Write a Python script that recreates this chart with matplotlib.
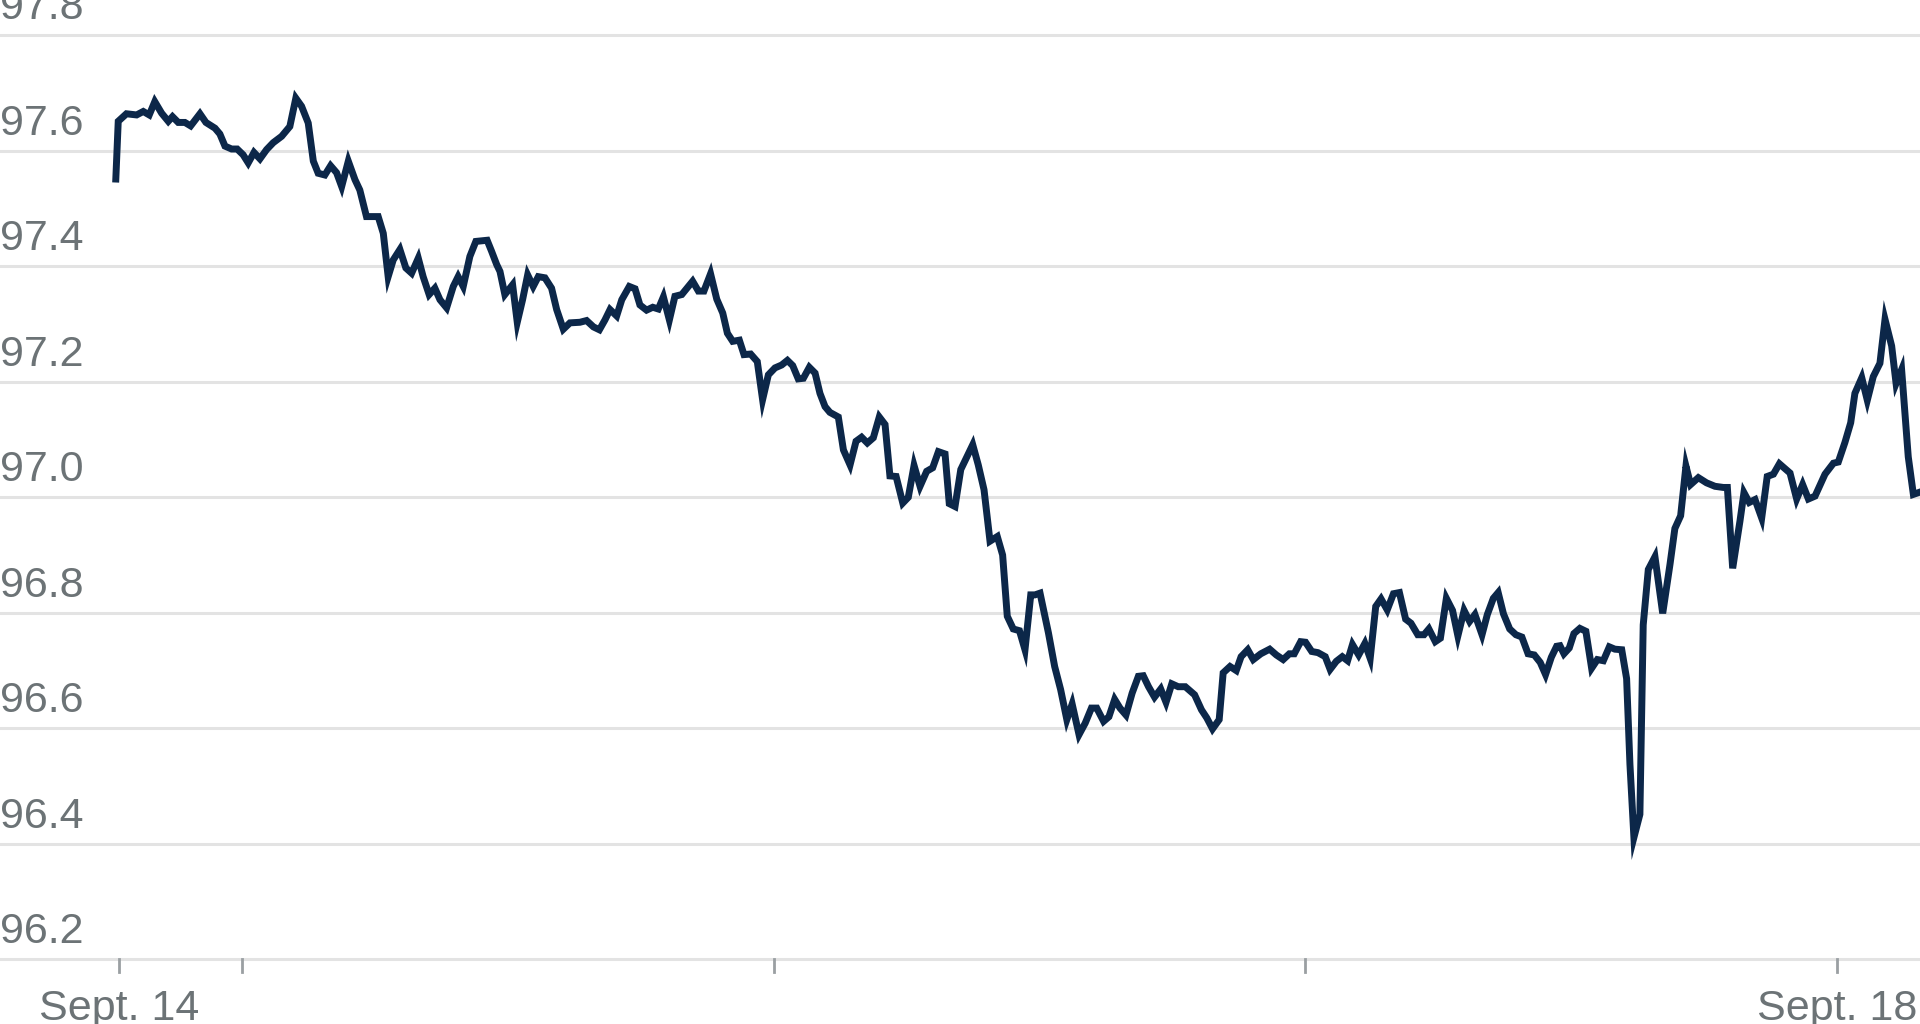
import matplotlib
matplotlib.use("Agg")
from matplotlib import pyplot as plt

# hours since midnight Sept. 15
hours = [
    -5.72, -5.61, -5.24, -4.78, -4.48, -4.21, -3.96, -3.65, -3.35, -3.16, -2.90, -2.60, -2.34, -1.92,
    -1.65, -1.24, -1.02, -0.79, -0.49, -0.24, 0.03, 0.26, 0.52, 0.79, 1.09, 1.39, 1.77, 2.14, 2.41,
    2.67, 2.97, 3.20, 3.42, 3.72, 3.98, 4.25, 4.48, 4.78, 5.08, 5.30, 5.60, 5.91, 6.13, 6.36, 6.58,
    6.81, 7.11, 7.38, 7.64, 7.94, 8.16, 8.43, 8.69, 8.92, 9.22, 9.52, 9.74, 9.97, 10.27, 10.54, 11.05,
    11.25, 11.48, 11.63, 11.85, 12.20, 12.41, 12.65, 12.88, 13.13, 13.36, 13.66, 13.96, 14.19, 14.49,
    14.79, 15.24, 15.54, 15.85, 16.12, 16.37, 16.60, 16.90, 17.13, 17.47, 17.73, 17.95, 18.25, 18.53,
    18.78, 19.01, 19.28, 19.53, 19.84, 20.33, 20.59, 20.84, 21.14, 21.42, 21.69, 21.90, 22.14, 22.44,
    22.65, 22.95, 23.25, 23.49, 23.75, 24.05, 24.35, 24.61, 24.85, 25.10, 25.33, 25.60, 25.86, 26.08,
    26.31, 26.53, 26.91, 27.14, 27.44, 27.71, 27.96, 28.22, 28.49, 28.76, 29.02, 29.24, 29.52, 29.82,
    30.07, 30.33, 30.60, 30.90, 31.17, 31.43, 31.73, 31.92, 32.18, 32.44, 32.98, 33.23, 33.49, 33.76,
    34.09, 34.33, 34.54, 34.81, 35.09, 35.34, 35.60, 35.79, 36.02, 36.40, 36.68, 36.95, 37.23, 37.47,
    37.78, 38.06, 38.34, 38.58, 38.89, 39.13, 39.39, 39.63, 39.90, 40.18, 40.46, 40.68, 40.92, 41.19,
    41.47, 41.71, 41.97, 42.26, 42.58, 43.00, 43.31, 43.55, 43.81, 44.11, 44.29, 44.60, 44.88, 45.10,
    45.40, 45.65, 45.99, 46.39, 46.69, 47.00, 47.28, 47.50, 47.79, 48.01, 48.29, 48.57, 48.90, 49.12,
    49.40, 49.67, 49.91, 50.13, 50.41, 50.69, 50.93, 51.18, 51.42, 51.70, 51.98, 52.25, 52.53, 52.77,
    53.08, 53.36, 53.58, 53.87, 54.10, 54.37, 54.65, 54.89, 55.17, 55.42, 55.66, 55.98, 56.22, 56.49,
    56.71, 56.95, 57.23, 57.51, 57.78, 58.06, 58.34, 58.61, 58.85, 59.11, 59.35, 59.50, 59.68, 59.92,
    60.13, 60.40, 60.67, 60.93, 61.19, 61.46, 61.73, 61.98, 62.29, 62.51, 62.66, 62.84, 63.11, 63.26,
    63.49, 63.79, 64.14, 64.47, 64.69, 64.95, 65.19, 65.40, 65.75, 66.12, 66.50, 66.88, 67.06, 67.30,
    67.63, 67.81, 68.05, 68.31, 68.61, 68.86, 69.14, 69.41, 69.89, 70.19, 70.46, 70.72, 71.02, 71.47,
    71.85, 72.07, 72.37, 72.63, 72.82, 73.13, 73.38, 73.65, 73.95, 74.18, 74.48, 74.68, 74.93, 75.23,
    75.46, 75.76,
]
price = [
    97.551, 97.651, 97.664, 97.662, 97.668, 97.662, 97.685, 97.665, 97.651, 97.659, 97.649, 97.649,
    97.643, 97.664, 97.649, 97.639, 97.629, 97.608, 97.603, 97.603, 97.593, 97.579, 97.597, 97.586,
    97.602, 97.614, 97.625, 97.642, 97.691, 97.677, 97.648, 97.582, 97.561, 97.558, 97.574, 97.562,
    97.538, 97.582, 97.550, 97.532, 97.486, 97.486, 97.486, 97.457, 97.382, 97.411, 97.429, 97.397,
    97.388, 97.414, 97.382, 97.351, 97.362, 97.342, 97.328, 97.365, 97.382, 97.365, 97.417, 97.443,
    97.445, 97.426, 97.403, 97.391, 97.351, 97.368, 97.303, 97.342, 97.385, 97.365, 97.382, 97.380,
    97.362, 97.325, 97.291, 97.302, 97.303, 97.306, 97.295, 97.290, 97.307, 97.325, 97.314, 97.342,
    97.365, 97.361, 97.333, 97.324, 97.329, 97.326, 97.347, 97.307, 97.348, 97.351, 97.374, 97.357,
    97.357, 97.387, 97.343, 97.319, 97.284, 97.270, 97.272, 97.247, 97.248, 97.235, 97.169, 97.212,
    97.224, 97.229, 97.237, 97.228, 97.205, 97.206, 97.225, 97.215, 97.180, 97.157, 97.147, 97.139,
    97.082, 97.056, 97.097, 97.104, 97.094, 97.103, 97.139, 97.126, 97.037, 97.036, 96.990, 97.000,
    97.055, 97.019, 97.045, 97.051, 97.079, 97.075, 96.989, 96.984, 97.048, 97.091, 97.056, 97.013,
    96.924, 96.932, 96.900, 96.794, 96.772, 96.769, 96.736, 96.831, 96.831, 96.834, 96.765, 96.707,
    96.667, 96.615, 96.642, 96.589, 96.609, 96.635, 96.635, 96.612, 96.620, 96.650, 96.635, 96.623,
    96.661, 96.690, 96.691, 96.672, 96.654, 96.668, 96.645, 96.677, 96.672, 96.672, 96.658, 96.632,
    96.618, 96.599, 96.615, 96.696, 96.707, 96.700, 96.724, 96.736, 96.719, 96.729, 96.737, 96.727,
    96.719, 96.729, 96.729, 96.750, 96.749, 96.733, 96.731, 96.724, 96.702, 96.716, 96.724, 96.717,
    96.745, 96.727, 96.747, 96.721, 96.811, 96.824, 96.805, 96.833, 96.835, 96.789, 96.782, 96.762,
    96.762, 96.772, 96.750, 96.756, 96.825, 96.804, 96.760, 96.804, 96.785, 96.797, 96.762, 96.797,
    96.825, 96.835, 96.798, 96.772, 96.762, 96.758, 96.729, 96.727, 96.714, 96.693, 96.723, 96.742,
    96.743, 96.729, 96.739, 96.764, 96.773, 96.768, 96.704, 96.719, 96.717, 96.741, 96.737, 96.736,
    96.686, 96.538, 96.411, 96.451, 96.779, 96.875, 96.897, 96.799, 96.884, 96.946, 96.968, 97.054,
    97.022, 97.034, 97.025, 97.019, 97.017, 97.017, 96.877, 96.959, 97.008, 96.991, 96.996, 96.964,
    97.036, 97.040, 97.058, 97.042, 96.997, 97.022, 96.997, 97.002, 97.040, 97.059, 97.061, 97.095,
    97.129, 97.180, 97.207, 97.168, 97.209, 97.232, 97.308, 97.262, 97.197, 97.221, 97.070, 97.005,
    97.009,
]
n = min(len(hours), len(price))
hours, price = hours[:n], price[:n]

y_ticks = [96.2, 96.4, 96.6, 96.8, 97.0, 97.2, 97.4, 97.6, 97.8]
x_ticks = [-5.59, 0, 24, 48, 72]
x_labels = {-5.59: "Sept. 14", 72: "Sept. 18"}

LINE = "#0c2749"
GRID = "#e3e3e3"
TEXT = "#6c7376"

fig = plt.figure(figsize=(19.2, 10.24), dpi=100)
ax = fig.add_axes([0, 0, 1, 1])
ax.set_xlim(-10.95, 75.76)
ax.set_ylim(96.088, 97.861)
ax.axis("off")

for v in y_ticks:
    ax.axhline(v, color=GRID, lw=2.2, zorder=1)
    ax.annotate(f"{v:.1f}", (0, v), xycoords=("axes fraction", "data"),
                xytext=(0, 7), textcoords="offset pixels", ha="left", va="bottom",
                fontsize=31, color=TEXT, family="Liberation Sans")

for t in x_ticks:
    ax.plot([t, t], [96.2, 96.2 - 0.022], color="#9a9fa2", lw=2, zorder=1, clip_on=False)
    if t in x_labels:
        ax.annotate(x_labels[t], (t, 96.2), xycoords="data", xytext=(0, -30),
                    textcoords="offset pixels", ha="center", va="top",
                    fontsize=31, color=TEXT, family="Liberation Sans")

ax.plot(hours, price, color=LINE, lw=5.0, solid_joinstyle="miter", zorder=3)

fig.savefig("out.png", dpi=100)
